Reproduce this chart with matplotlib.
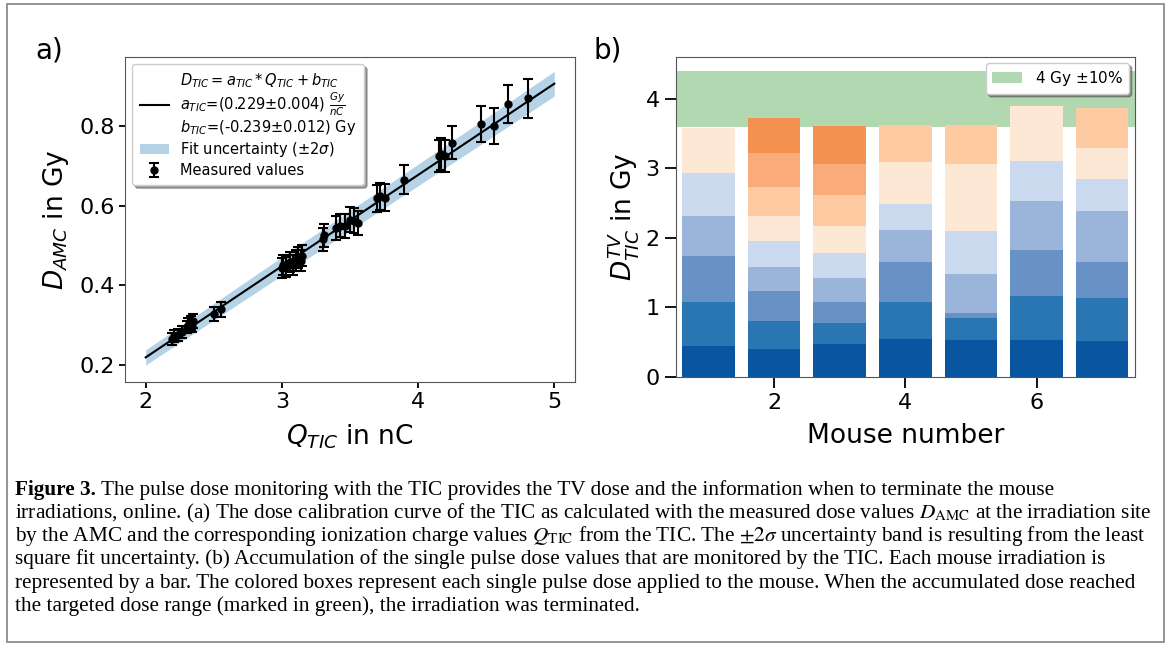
import matplotlib
matplotlib.use("Agg")
import matplotlib.pyplot as plt
from matplotlib.patches import Rectangle
import numpy as np

matplotlib.rcParams['font.family'] = ['DejaVu Sans']

# --- panel a: dose calibration of the TIC ---
q_tic = [2.19, 2.21, 2.24, 2.27, 2.30, 2.31, 2.33, 2.34, 2.35,
         2.50, 2.55,
         3.00, 3.01, 3.03, 3.06, 3.08, 3.10, 3.12, 3.14, 3.15,
         3.30, 3.31,
         3.40, 3.43, 3.46, 3.50, 3.53, 3.56,
         3.70, 3.72, 3.76,
         3.90,
         4.15, 4.17, 4.20, 4.25,
         4.46, 4.56, 4.66, 4.81]
d_amc = [0.265, 0.272, 0.276, 0.283, 0.295, 0.300, 0.305, 0.298, 0.310,
         0.328, 0.340,
         0.443, 0.452, 0.447, 0.458, 0.452, 0.463, 0.470, 0.462, 0.474,
         0.515, 0.525,
         0.543, 0.550, 0.548, 0.565, 0.562, 0.556,
         0.618, 0.623, 0.620,
         0.665,
         0.725, 0.730, 0.725, 0.758,
         0.805, 0.800, 0.855, 0.870]
d_err = [0.014, 0.015, 0.015, 0.016, 0.016, 0.017, 0.017, 0.016, 0.017,
         0.018, 0.019,
         0.025, 0.025, 0.025, 0.025, 0.025, 0.026, 0.026, 0.026, 0.026,
         0.028, 0.029,
         0.030, 0.030, 0.030, 0.031, 0.031, 0.031,
         0.034, 0.034, 0.034,
         0.037,
         0.040, 0.040, 0.040, 0.042,
         0.045, 0.045, 0.047, 0.049]
a_tic = 0.229
b_tic = -0.239
band_x = [2.0, 5.0]
band_half = [0.019, 0.031]

# --- panel b: single pulse doses per mouse (bottom to top) ---
mice = [1, 2, 3, 4, 5, 6, 7]
pulse_doses = [
    [0.447, 0.635, 0.663, 0.567, 0.628, 0.640],
    [0.399, 0.409, 0.428, 0.351, 0.365, 0.365, 0.419, 0.485, 0.505],
    [0.471, 0.308, 0.293, 0.346, 0.361, 0.389, 0.452, 0.438, 0.548],
    [0.538, 0.534, 0.582, 0.461, 0.380, 0.592, 0.543],
    [0.529, 0.312, 0.082, 0.558, 0.620, 0.961, 0.568],
    [0.529, 0.634, 0.664, 0.697, 0.582, 0.798],
    [0.519, 0.611, 0.519, 0.731, 0.461, 0.452, 0.577],
]
target_dose = 4.0
pulse_colors = ['#0a55a0', '#2976b2', '#6892c6', '#9bb4da', '#cbd9ef',
                '#fde8d6', '#fdcaa2', '#f9ac7a', '#f59150']

caption_lines = [
    " The pulse dose monitoring with the TIC provides the TV dose and the information when to terminate the mouse",
    r"irradiations, online. (a) The dose calibration curve of the TIC as calculated with the measured dose values $D_{\mathrm{AMC}}$ at the irradiation site",
    r"by the AMC and the corresponding ionization charge values $Q_{\mathrm{TIC}}$ from the TIC. The $\pm 2\sigma$ uncertainty band is resulting from the least",
    "square fit uncertainty. (b) Accumulation of the single pulse dose values that are monitored by the TIC. Each mouse irradiation is",
    "represented by a bar. The colored boxes represent each single pulse dose applied to the mouse. When the accumulated dose reached",
    "the targeted dose range (marked in green), the irradiation was terminated.",
]

W, H = 1168, 646
fig = plt.figure(figsize=(W / 100, H / 100), dpi=100)
spine_col = '#555555'

# ---------------- panel a ----------------
ax1 = fig.add_axes([125 / W, 1 - 381.7 / H, 450 / W, 324.7 / H])
xs = np.array(band_x)
ax1.fill_between(xs, a_tic * xs + b_tic - np.array(band_half),
                 a_tic * xs + b_tic + np.array(band_half),
                 color='tab:blue', alpha=0.33, lw=0, label=r'Fit uncertainty ($\pm 2\sigma$)')
fit_label = (r'$D_{TIC} = a_{TIC} * Q_{TIC} + b_{TIC}$' + '\n'
             + r'$a_{TIC}$=(0.229$\pm$0.004) $\frac{Gy}{nC}$' + '\n'
             + r'$b_{TIC}$=(-0.239$\pm$0.012) Gy')
ax1.plot(xs, a_tic * xs + b_tic, color='black', lw=1.5, label=fit_label)
ax1.errorbar(q_tic, d_amc, yerr=d_err, fmt='o', color='black', ms=5,
             elinewidth=1.5, capsize=3.5, capthick=1.5, label='Measured values')
ax1.set_xlim(1.848, 5.152)
ax1.set_ylim(0.158, 0.973)
ax1.set_xticks([2, 3, 4, 5])
ax1.set_yticks([0.2, 0.4, 0.6, 0.8])
ax1.tick_params(labelsize=16, width=1.3, length=4)
ax1.set_xlabel(r'$Q_{TIC}$ in nC', fontsize=19)
ax1.set_ylabel(r'$D_{AMC}$ in Gy', fontsize=19)
ax1.xaxis.set_label_coords(0.5, -0.125)
ax1.yaxis.set_label_coords(-0.12, 0.5)
for s in ax1.spines.values():
    s.set_color(spine_col)
h, l = ax1.get_legend_handles_labels()
order = [1, 0, 2]
leg = ax1.legend([h[i] for i in order], [l[i] for i in order], loc='upper left',
                 fontsize=10.5, shadow=True, borderaxespad=0.5, labelspacing=0.25,
                 borderpad=0.5)
for txt in leg.get_texts():
    txt.set_linespacing(1.0)
fig.text(35 / W, 1 - 50 / H, 'a)', fontsize=20, va='center')

# ---------------- panel b ----------------
ax2 = fig.add_axes([675.6 / W, 1 - 376.7 / H, 459.4 / W, 320 / H])
ax2.axhspan(target_dose * 0.9, target_dose * 1.1, color='green', alpha=0.3, lw=0,
            label=r'4 Gy $\pm$10%')
for m, doses in zip(mice, pulse_doses):
    bottom = 0
    for k, d in enumerate(doses):
        ax2.bar(m, d, bottom=bottom, width=0.8, color=pulse_colors[k], lw=0)
        bottom += d
ax2.set_xlim(0.5, 7.5)
ax2.set_ylim(0, 4.61)
ax2.set_xticks([2, 4, 6])
ax2.set_yticks([0, 1, 2, 3, 4])
ax2.tick_params(labelsize=16, width=1.3, length=8)
ax2.set_xlabel('Mouse number', fontsize=19)
ax2.set_ylabel(r'$D_{TIC}^{TV}$ in Gy', fontsize=19)
ax2.xaxis.set_label_coords(0.5, -0.145)
ax2.yaxis.set_label_coords(-0.075, 0.5)
for s in ax2.spines.values():
    s.set_color(spine_col)
ax2.legend(loc='upper right', fontsize=11, shadow=True, borderaxespad=0.4)
fig.text(593 / W, 1 - 50 / H, 'b)', fontsize=20, va='center')

# ---------------- caption ----------------
fig.add_artist(Rectangle((7 / W, 4 / H), 1157 / W, 638 / H, transform=fig.transFigure,
                         fill=False, edgecolor='#8c8c8c', lw=1.3))
cap_font = dict(family='Liberation Serif', fontsize=15.3, math_fontfamily='stix')
baselines = [495, 518, 541, 564, 588, 611]
renderer = fig.canvas.get_renderer()
t0 = fig.text(15 / W, 1 - baselines[0] / H, 'Figure 3.', fontweight='bold',
              va='baseline', **cap_font)
x_next = t0.get_window_extent(renderer).x1 / W
fig.text(x_next, 1 - baselines[0] / H, caption_lines[0], va='baseline', **cap_font)
for yb, line in zip(baselines[1:], caption_lines[1:]):
    fig.text(15 / W, 1 - yb / H, line, va='baseline', **cap_font)

fig.savefig('out.png', dpi=100)
